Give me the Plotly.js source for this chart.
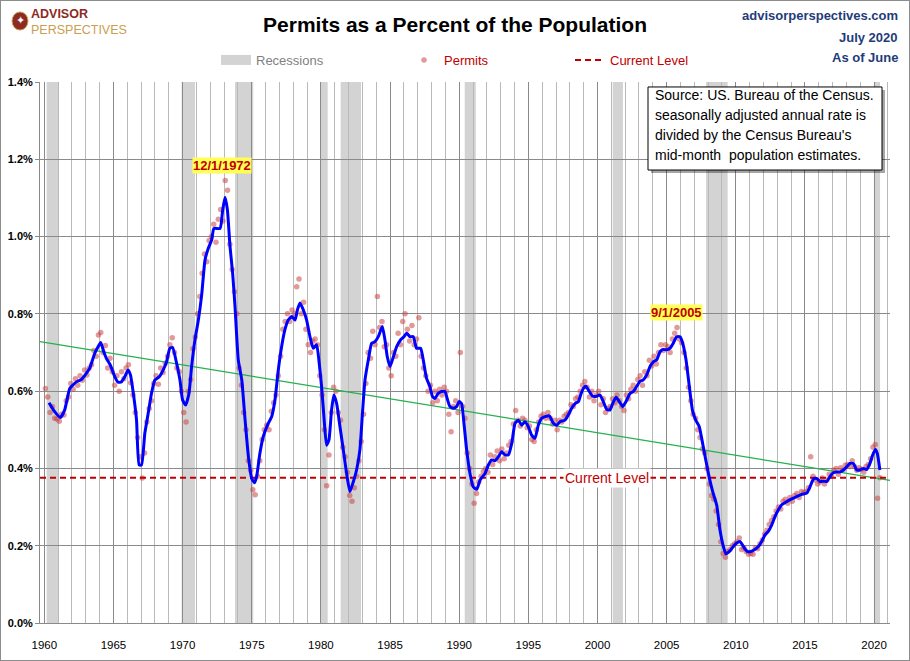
<!DOCTYPE html>
<html>
<head>
<meta charset="utf-8">
<script src="https://cdn.plot.ly/plotly-3.0.1.min.js"></script>
<style>
  html, body { margin: 0; padding: 0; background: #fff; }
  #wrap { position: relative; width: 910px; height: 661px; }
  #chart { width: 910px; height: 661px; }
  #frame { position: absolute; left: 0; top: 0; width: 908px; height: 659px; border: 1px solid #8c8c8c; pointer-events: none; }
</style>
</head>
<body>
<div id="wrap"><div id="chart"></div><div id="frame"></div></div>
<script>
// ---------------- DATA ----------------
// Smoothed permits line (blue), year -> % of population
const lineYears = [
 1960.34,1960.75,1961.16,1961.47,1961.84,1962.08,1962.32,1962.68,1963.04,1963.28,1963.65,1963.89,
 1964.08,1964.3,1964.49,1964.78,1965.1,1965.34,1965.58,1965.82,1966.06,1966.23,1966.47,1966.67,1966.86,
 1967.03,1967.27,1967.51,1967.75,1968.0,1968.31,1968.6,1968.84,1969.08,1969.28,1969.52,1969.81,
 1970.0,1970.22,1970.46,1970.65,1970.89,1971.14,1971.38,1971.62,1971.86,1972.1,1972.27,1972.71,1972.9,
 1973.07,1973.24,1973.43,1973.62,1973.79,1974.03,1974.28,1974.52,1974.76,1975.0,1975.2,1975.35,1975.59,1975.83,
 1976.2,1976.44,1976.68,1976.92,1977.16,1977.4,1977.64,1977.89,1978.13,1978.3,1978.49,1978.73,1978.97,
 1979.21,1979.45,1979.69,1979.88,1980.05,1980.22,1980.41,1980.58,1980.77,1980.94,1981.14,1981.38,1981.62,1981.86,
 1982.1,1982.34,1982.58,1982.82,1983.02,1983.19,1983.43,1983.67,1983.91,1984.15,1984.44,1984.63,1984.8,
 1985.0,1985.24,1985.48,1985.77,1986.01,1986.2,1986.44,1986.68,1986.92,1987.21,1987.4,1987.64,1987.88,
 1988.07,1988.24,1988.48,1988.72,1988.97,1989.13,1989.33,1989.57,1989.81,1990.0,1990.17,1990.35,1990.54,1990.78,
 1991.02,1991.27,1991.51,1991.87,1992.11,1992.35,1992.59,1992.83,1993.07,1993.31,1993.56,1993.8,
 1994.04,1994.28,1994.52,1994.76,1995.0,1995.24,1995.48,1995.72,1995.97,1996.21,1996.52,1996.81,
 1997.05,1997.29,1997.65,1997.89,1998.13,1998.38,1998.62,1998.78,1998.98,1999.17,1999.41,1999.65,1999.94,
 2000.18,2000.42,2000.66,2000.9,2001.1,2001.34,2001.58,2001.82,2002.06,2002.35,2002.59,2002.83,
 2003.07,2003.31,2003.56,2003.8,2004.04,2004.28,2004.52,2004.76,2005.0,2005.24,2005.48,2005.72,2005.97,
 2006.16,2006.4,2006.64,2006.88,2007.12,2007.36,2007.6,2007.85,2008.09,2008.33,2008.62,2008.86,
 2009.1,2009.29,2009.53,2009.82,2010.06,2010.3,2010.55,2010.83,2011.08,2011.39,2011.63,2011.87,
 2012.11,2012.35,2012.6,2012.84,2013.08,2013.32,2013.68,2014.04,2014.4,2014.77,2015.13,2015.37,2015.61,2015.85,
 2016.09,2016.33,2016.57,2016.81,2017.05,2017.29,2017.54,2017.78,2018.02,2018.26,2018.5,2018.74,2018.98,
 2019.22,2019.46,2019.7,2019.89,2020.09,2020.23,2020.42
];
const lineValues = [
 0.570,0.547,0.532,0.551,0.607,0.616,0.624,0.630,0.646,0.659,0.698,0.715,
 0.726,0.702,0.685,0.667,0.637,0.623,0.624,0.637,0.655,0.642,0.586,0.525,0.409,
 0.409,0.491,0.542,0.594,0.629,0.637,0.655,0.676,0.711,0.713,0.680,0.629,
 0.577,0.564,0.594,0.663,0.732,0.784,0.849,0.939,0.970,0.991,1.021,1.021,1.069,
 1.102,1.069,0.974,0.905,0.819,0.680,0.629,0.525,0.430,0.374,0.363,0.378,0.439,0.482,
 0.517,0.534,0.577,0.655,0.715,0.759,0.784,0.793,0.784,0.810,0.828,0.810,0.784,
 0.741,0.711,0.720,0.672,0.612,0.534,0.460,0.473,0.551,0.590,0.568,0.508,0.448,0.387,
 0.340,0.365,0.396,0.448,0.551,0.629,0.681,0.724,0.728,0.741,0.767,0.733,0.689,
 0.664,0.689,0.715,0.733,0.741,0.750,0.741,0.741,0.711,0.711,0.681,0.633,0.612,
 0.586,0.581,0.594,0.599,0.599,0.581,0.560,0.556,0.560,0.573,0.568,0.515,0.448,0.387,
 0.352,0.346,0.370,0.387,0.409,0.422,0.420,0.430,0.443,0.435,0.435,0.465,
 0.517,0.525,0.512,0.521,0.508,0.486,0.478,0.512,0.530,0.534,0.536,0.517,
 0.512,0.521,0.525,0.538,0.556,0.568,0.573,0.590,0.607,0.613,0.599,0.587,0.587,
 0.590,0.573,0.553,0.551,0.568,0.584,0.573,0.560,0.573,0.594,0.599,0.612,
 0.625,0.629,0.642,0.664,0.676,0.681,0.702,0.708,0.707,0.711,0.724,0.741,0.741,
 0.724,0.681,0.612,0.548,0.524,0.508,0.465,0.418,0.375,0.340,0.305,0.240,
 0.198,0.179,0.185,0.198,0.207,0.211,0.198,0.185,0.185,0.191,0.198,0.211,
 0.228,0.237,0.254,0.276,0.293,0.306,0.314,0.321,0.327,0.333,0.336,0.353,0.372,0.374,
 0.366,0.367,0.366,0.379,0.389,0.391,0.391,0.396,0.404,0.413,0.413,0.396,0.396,
 0.400,0.397,0.413,0.434,0.449,0.439,0.396
];

// Permit readings (red dots), six readings per year from 1960, three in 2020
const permitStartYear = 1960;
const permitsPerYear = 6;
const permitValues = [
 0.607,0.585,0.545,0.560,0.530,0.528,  // 1960
 0.522,0.540,0.538,0.575,0.585,0.620,  // 1961
 0.605,0.632,0.615,0.640,0.628,0.655,  // 1962
 0.642,0.660,0.668,0.705,0.690,0.745,  // 1963
 0.752,0.700,0.718,0.660,0.685,0.650,  // 1964
 0.615,0.640,0.600,0.650,0.632,0.660,  // 1965
 0.668,0.622,0.590,0.545,0.480,0.430,  // 1966
 0.375,0.440,0.520,0.555,0.575,0.620,  // 1967
 0.640,0.618,0.660,0.648,0.672,0.690,  // 1968
 0.720,0.738,0.700,0.660,0.650,0.600,  // 1969
 0.545,0.520,0.600,0.630,0.710,0.740,  // 1970
 0.800,0.845,0.905,0.955,0.935,0.990,  // 1971
 1.000,1.032,0.985,1.045,1.070,1.040,  // 1972
 1.145,1.120,0.980,0.915,0.857,0.800,  // 1973
 0.660,0.615,0.545,0.500,0.420,0.395,  // 1974
 0.345,0.332,0.380,0.420,0.475,0.500,  // 1975
 0.512,0.500,0.548,0.570,0.590,0.640,  // 1976
 0.690,0.760,0.780,0.800,0.780,0.810,  // 1977
 0.800,0.870,0.890,0.800,0.830,0.760,  // 1978
 0.720,0.700,0.730,0.735,0.720,0.640,  // 1979
 0.590,0.500,0.355,0.435,0.545,0.610,  // 1980
 0.600,0.545,0.525,0.455,0.430,0.390,  // 1981
 0.330,0.315,0.350,0.380,0.420,0.470,  // 1982
 0.540,0.620,0.700,0.685,0.755,0.720,  // 1983
 0.845,0.765,0.780,0.715,0.720,0.660,  // 1984
 0.640,0.700,0.690,0.750,0.720,0.780,  // 1985
 0.800,0.760,0.730,0.770,0.720,0.735,  // 1986
 0.790,0.690,0.660,0.640,0.600,0.615,  // 1987
 0.570,0.600,0.575,0.605,0.590,0.610,  // 1988
 0.600,0.540,0.495,0.560,0.575,0.545,  // 1989
 0.700,0.560,0.530,0.440,0.400,0.360,  // 1990
 0.310,0.335,0.365,0.380,0.392,0.400,  // 1991
 0.390,0.435,0.410,0.430,0.445,0.420,  // 1992
 0.450,0.425,0.440,0.460,0.470,0.515,  // 1993
 0.550,0.525,0.510,0.530,0.525,0.505,  // 1994
 0.510,0.475,0.470,0.500,0.520,0.535,  // 1995
 0.540,0.530,0.545,0.530,0.515,0.525,  // 1996
 0.500,0.525,0.520,0.535,0.540,0.545,  // 1997
 0.565,0.560,0.580,0.585,0.600,0.615,  // 1998
 0.625,0.610,0.585,0.600,0.575,0.590,  // 1999
 0.600,0.565,0.580,0.545,0.555,0.560,  // 2000
 0.580,0.570,0.590,0.575,0.560,0.550,  // 2001
 0.590,0.580,0.605,0.615,0.600,0.630,  // 2002
 0.640,0.615,0.650,0.640,0.680,0.665,  // 2003
 0.690,0.670,0.700,0.720,0.705,0.720,  // 2004
 0.715,0.700,0.735,0.750,0.765,0.735,  // 2005
 0.725,0.700,0.660,0.610,0.575,0.540,  // 2006
 0.530,0.500,0.480,0.450,0.440,0.400,  // 2007
 0.360,0.330,0.320,0.290,0.255,0.210,  // 2008
 0.180,0.170,0.185,0.190,0.200,0.205,  // 2009
 0.210,0.220,0.190,0.195,0.185,0.178,  // 2010
 0.180,0.178,0.195,0.192,0.205,0.215,  // 2011
 0.230,0.240,0.255,0.265,0.275,0.290,  // 2012
 0.300,0.295,0.315,0.320,0.310,0.325,  // 2013
 0.315,0.330,0.335,0.325,0.340,0.338,  // 2014
 0.340,0.350,0.430,0.380,0.370,0.360,  // 2015
 0.365,0.375,0.360,0.370,0.385,0.380,  // 2016
 0.395,0.400,0.385,0.402,0.395,0.408,  // 2017
 0.410,0.405,0.420,0.405,0.395,0.402,  // 2018
 0.398,0.390,0.405,0.410,0.425,0.455,  // 2019
 0.462,0.323,0.376                     // 2020
];

// Recessions (shaded bands), fractional years
const recessionStart = [1960.17, 1969.93, 1973.79, 1979.94, 1981.43, 1990.40, 2001.10, 2007.85, 2019.99];
const recessionEnd   = [1961.01, 1970.90, 1975.11, 1980.49, 1982.90, 1991.20, 2001.84, 2009.41, 2020.43];

// Green trend line end points
const trendYears  = [1959.69, 2021.15];
const trendValues = [0.728, 0.369];

// Current level (latest reading)
const currentLevel = 0.376;

// Peak labels
const peakLabels = ['12/1/1972', '9/1/2005'];
const peakYears  = [1972.86, 2005.68];
const peakValues = [1.184, 0.804];

const xRange = [1959.69, 2021.15];
const yTicks = [0, 0.2, 0.4, 0.6, 0.8, 1.0, 1.2, 1.4];
const yTickLabels = ['0.0%', '0.2%', '0.4%', '0.6%', '0.8%', '1.0%', '1.2%', '1.4%'];

const sourceLines = [
  'Source: US. Bureau of the Census.',
  'seasonally adjusted annual rate is',
  "divided by the Census Bureau's",
  'mid-month&nbsp; population estimates.'
];

// ---------------- BUILD ----------------
const permitYears = permitValues.map((v, i) => permitStartYear + (i + 0.5) / permitsPerYear);

const FONT = 'Liberation Sans, Arial, sans-serif';
const DARKRED = '#c00000';
const BLUE_TXT = '#1f3c7a';

const traces = [
  { // legend entry for recessions
    x: [null], y: [null], type: 'scatter', mode: 'lines',
    name: '<span style="color:#7f7f7f">Recessions</span>',
    line: { color: '#d3d3d3', width: 10 },
    legend: 'legend', hoverinfo: 'skip'
  },
  {
    x: permitYears, y: permitValues, type: 'scatter', mode: 'markers',
    name: '<span style="color:' + DARKRED + '">Permits</span>',
    marker: { color: 'rgba(200,70,70,0.55)', size: 5.5 },
    legend: 'legend2'
  },
  {
    x: trendYears, y: trendValues, type: 'scatter', mode: 'lines',
    line: { color: '#22b14c', width: 1.2 }, showlegend: false
  },
  {
    x: xRange, y: [currentLevel, currentLevel], type: 'scatter', mode: 'lines',
    name: '<span style="color:' + DARKRED + '">Current Level</span>',
    line: { color: DARKRED, width: 2, dash: '6px,4px' },
    legend: 'legend3'
  },
  {
    x: lineYears, y: lineValues, type: 'scatter', mode: 'lines',
    line: { color: '#0000ff', width: 3, shape: 'spline', smoothing: 0.5 },
    showlegend: false
  }
];

const shapes = recessionStart.map((s, i) => ({
  type: 'rect', xref: 'x', yref: 'paper', x0: s, x1: recessionEnd[i], y0: 0, y1: 1,
  fillcolor: '#d3d3d3', line: { width: 0 }, layer: 'below'
}));

// source box (shadow + box)
shapes.push({ type: 'rect', xref: 'paper', yref: 'paper', x0: 0.7188, x1: 0.9941, y0: 0.8318, y1: 0.9852,
  fillcolor: 'rgba(0,0,0,0.35)', line: { width: 0 }, layer: 'above' });
shapes.push({ type: 'rect', xref: 'paper', yref: 'paper', x0: 0.7153, x1: 0.9906, y0: 0.8373, y1: 0.9908,
  fillcolor: '#ffffff', line: { color: '#000000', width: 1 }, layer: 'above' });
// logo mark
shapes.push({ type: 'circle', xref: 'paper', yref: 'paper', x0: -0.0329, x1: -0.0141, y0: 1.096, y1: 1.1295,
  fillcolor: '#8e2a24', line: { color: '#c8a050', width: 1 }, layer: 'above' });

const annotations = [];
// source text lines
const srcY = [0.9759, 0.9390, 0.9020, 0.8651];
sourceLines.forEach((t, i) => annotations.push({
  xref: 'paper', yref: 'paper', x: 0.7212, y: srcY[i], xanchor: 'left', yanchor: 'middle',
  text: t, showarrow: false, font: { family: FONT, size: 14, color: '#000' }
}));
// current level label
annotations.push({ x: 2000.7, y: currentLevel, text: 'Current Level', showarrow: false,
  bgcolor: '#ffffff', borderpad: 1, font: { family: FONT, size: 14, color: DARKRED } });
// peak labels
peakLabels.forEach((t, i) => annotations.push({
  x: peakYears[i], y: peakValues[i], text: t, showarrow: false, bgcolor: '#ffff55', borderpad: 0,
  font: { family: FONT, size: 13, color: DARKRED, weight: 'bold' }
}));
// header right
[['advisorperspectives.com', 15], ['July 2020', 37], ['As of June', 57]].forEach(([t, py]) => annotations.push({
  xref: 'paper', yref: 'paper', x: (900 - 40) / 850, y: (623 - py) / 541, xanchor: 'right', yanchor: 'middle',
  text: t, showarrow: false, font: { family: FONT, size: 13, color: BLUE_TXT, weight: 'bold' }
}));
// logo text (one block, two lines)
annotations.push({ xref: 'paper', yref: 'paper', x: (29 - 40) / 850, y: (623 - 22) / 541, xanchor: 'left', yanchor: 'middle',
  align: 'left', showarrow: false,
  text: '<b><span style="color:#8e2a24">ADVISOR</span></b><br><span style="color:#c8a050">PERSPECTIVES</span>',
  font: { family: FONT, size: 12.5 } });
annotations.push({ xref: 'paper', yref: 'paper', x: (20 - 40) / 850, y: (623 - 21) / 541, xanchor: 'center', yanchor: 'middle',
  text: '✦', showarrow: false, font: { family: 'DejaVu Sans', size: 11, color: '#ffffff' } });

const legendBase = { orientation: 'h', yanchor: 'middle', xanchor: 'left', y: (623 - 60) / 541,
  bgcolor: 'rgba(0,0,0,0)', font: { family: FONT, size: 13 } };

const layout = {
  width: 910, height: 661,
  margin: { l: 40, r: 20, t: 82, b: 38 },
  paper_bgcolor: '#ffffff', plot_bgcolor: '#ffffff',
  title: { text: 'Permits as a Percent of the Population', xref: 'container', x: 455 / 910, xanchor: 'center',
    yref: 'container', y: 1 - 25 / 661, yanchor: 'middle',
    font: { family: FONT, size: 21, color: '#000', weight: 'bold' } },
  xaxis: {
    range: xRange, tick0: 1960, dtick: 5, tickformat: 'd', showgrid: true, gridcolor: '#8a8a8a', gridwidth: 1,
    minor: { dtick: 1, tick0: 1960, showgrid: true, gridcolor: '#b9b9b9', gridwidth: 1 },
    showline: true, linecolor: '#8a8a8a', zeroline: false, ticks: '', ticklabelstandoff: 11,
    tickfont: { family: FONT, size: 11.5, color: '#000' }
  },
  yaxis: {
    range: [0, 1.4], tickmode: 'array', tickvals: yTicks, ticktext: yTickLabels, showgrid: true, gridcolor: '#8a8a8a',
    showline: true, linecolor: '#8a8a8a', zeroline: false, ticks: 'outside', ticklen: 4, tickcolor: '#8a8a8a',
    tickfont: { family: FONT, size: 11, color: '#000', weight: 'bold' }
  },
  legend: Object.assign({}, legendBase, { x: (216 - 40) / 850 }),
  legend2: Object.assign({}, legendBase, { x: (404 - 40) / 850 }),
  legend3: Object.assign({}, legendBase, { x: (570 - 40) / 850 }),
  shapes: shapes,
  annotations: annotations,
  showlegend: true
};

Plotly.newPlot('chart', traces, layout, { displayModeBar: false, staticPlot: true });
</script>
</body>
</html>
